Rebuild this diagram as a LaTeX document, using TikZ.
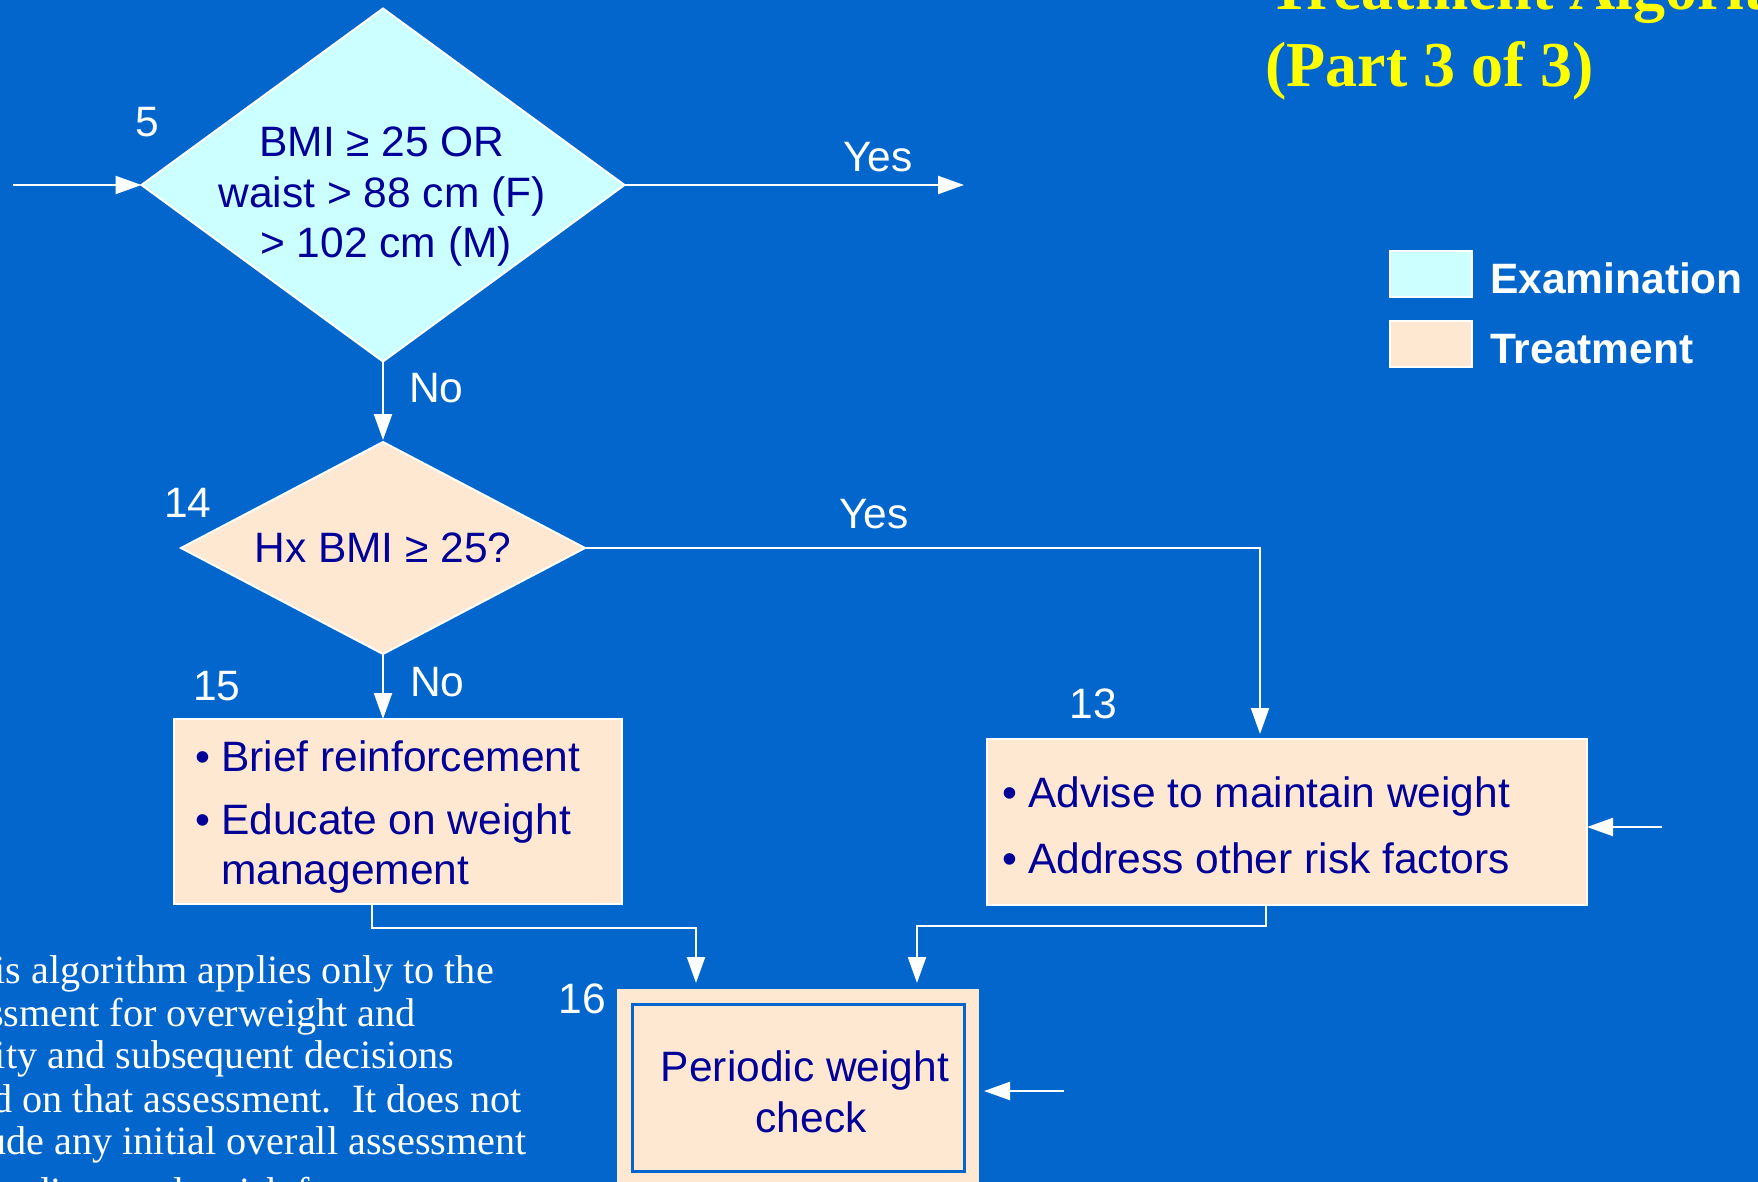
\documentclass[tikz,border=0pt]{standalone}
\usepackage{fontspec}
\setmainfont{Liberation Serif}
\newfontfamily\arialf{Liberation Sans}
\usetikzlibrary{arrows.meta,shapes.geometric}
\definecolor{bg}{HTML}{0366CC}
\definecolor{navy}{HTML}{000099}
\definecolor{exam}{HTML}{CCFFFF}
\definecolor{treat}{HTML}{FFE8D2}
\definecolor{ttl}{HTML}{FFFF00}
\tikzset{
  conn/.style={draw=white, line width=2.2pt, -{Triangle[length=26pt,width=18pt]}},
  dia/.style={diamond, draw=white, line width=2pt, inner sep=0pt, outer sep=0pt},
  box/.style={rectangle, draw=white, line width=2.5pt, fill=treat, inner sep=0pt, outer sep=0pt},
  lbl/.style={text=white, font=\arialf\fontsize{42.5}{50}\selectfont, inner sep=0pt, anchor=base},
  btxt/.style={text=navy, font=\arialf\fontsize{42.5}{50}\selectfont, inner sep=0pt, anchor=base},
  legtxt/.style={text=white, font=\arialf\bfseries\fontsize{42.5}{50}\selectfont, inner sep=0pt, anchor=base west},
  legbox/.style={rectangle, draw=white, line width=2pt, inner sep=0pt, minimum width=82pt, minimum height=46pt},
  note/.style={text=white, font=\fontsize{40.2}{43}\selectfont, inner sep=0pt, anchor=base east},
  ttlstyle/.style={text=ttl, font=\bfseries\fontsize{64}{77}\selectfont, inner sep=0pt, anchor=base west},
}
\newcommand{\bul}{\hbox to 26pt{\textbullet\hss}}
\begin{document}
\begin{tikzpicture}[x=1pt,y=-1pt]
\useasboundingbox (0,0) rectangle (1758,1182);
\clip (0,0) rectangle (1758,1182);
\fill[bg] (0,0) rectangle (1758,1182);

% title
\node[ttlstyle] (t1) at (1268,10) {Treatment Algorithm};
\node[ttlstyle] (t2) at (1265,87) {(Part 3 of 3)};

% legend
\node[legbox, fill=exam] (lg1) at (1431,274) {};
\node[legbox, fill=treat] (lg2) at (1431,344) {};
\node[legtxt] (lgt1) at (1490,293) {Examination};
\node[legtxt] (lgt2) at (1490,363) {Treatment};

% decision 5
\node[dia, fill=exam, minimum width=483pt, minimum height=353pt] (d1) at (383,185) {};
\node[btxt] (d1a) at (382,157) {BMI ≥ 25 OR};
\node[btxt] (d1b) at (382,208) {waist > 88 cm (F)};
\node[btxt] (d1c) at (386,258) {> 102 cm (M)};
\node[lbl] (n5) at (147,137) {5};

% decision 14
\node[dia, fill=treat, minimum width=404pt, minimum height=212pt] (d2) at (383,548) {};
\node[btxt] (d2a) at (383,562) {Hx BMI ≥ 25?};
\node[lbl] (n14) at (188,517) {14};

% box 15
\node[box, minimum width=448pt, minimum height=185pt] (b15) at (398,811.5) {};
\node[btxt, anchor=base west] (b15a) at (195,771) {\bul Brief reinforcement};
\node[btxt, anchor=base west] (b15b) at (195,834) {\bul Educate on weight};
\node[btxt, anchor=base west] (b15c) at (221,884) {management};
\node[lbl] (n15) at (217,700) {15};

% box 13
\node[box, minimum width=600pt, minimum height=166pt] (b13) at (1287,822) {};
\node[btxt, anchor=base west] (b13a) at (1002,807) {\bul Advise to maintain weight};
\node[btxt, anchor=base west] (b13b) at (1002,873) {\bul Address other risk factors};
\node[lbl] (n13) at (1093,718) {13};

% box 16
\node[rectangle, fill=treat, inner sep=0pt, outer sep=0pt, minimum width=362pt, minimum height=211pt] (b16) at (798,1094.5) {};
\node[rectangle, draw=bg, line width=3pt, inner sep=0pt, minimum width=332pt, minimum height=167pt] (b16in) at (798,1087.5) {};
\node[btxt] (b16a) at (805,1081) {Periodic weight};
\node[btxt] (b16b) at (811,1132) {check};
\node[lbl] (n16) at (582,1013) {16};

% connectors
\coordinate (in1) at (13,185);
\coordinate (yes1) at (964,185);
\coordinate (in13) at (1662,827);
\coordinate (in16) at (1064,1091);
\draw[conn] (in1) -- (d1.west);
\draw[conn] (d1.east) -- (yes1);
\draw[conn, shorten >=2pt] (d1.south) -- (d2.north);
\draw[conn, shorten >=5pt] (d2.east) -| ([xshift=-27pt]b13.north);
\draw[conn] (d2.south) -- (d2.south |- b15.north);
\draw[conn, shorten >=6pt] ([xshift=-26pt]b15.south) -- ++(0,24) -| ([xshift=-102pt]b16.north);
\draw[conn, shorten >=6pt] ([xshift=-21pt]b13.south) -- ++(0,21) -| ([xshift=119pt]b16.north);
\draw[conn] (in13) -- (in13 -| b13.east);
\draw[conn, shorten >=5pt] (in16) -- (in16 -| b16.east);

% connector labels
\node[lbl] (y1) at (878,172) {Yes};
\node[lbl, anchor=base west] (no1) at (409,402) {No};
\node[lbl] (y2) at (874,528) {Yes};
\node[lbl, anchor=base west] (no2) at (410,696) {No};

% note text
\node[note] (m1) at (494,983) {This algorithm applies only to the};
\node[note] (m2) at (416,1026) {assessment for overweight and};
\node[note] (m3) at (454,1068) {obesity and subsequent decisions};
\node[note] (m4) at (522,1112) {based on that assessment.\hspace{0.5em}It does not};
\node[note] (m5) at (527,1154) {include any initial overall assessment};
\node[note] (m6) at (406,1205) {for cardiovascular risk factors};
\end{tikzpicture}
\end{document}
